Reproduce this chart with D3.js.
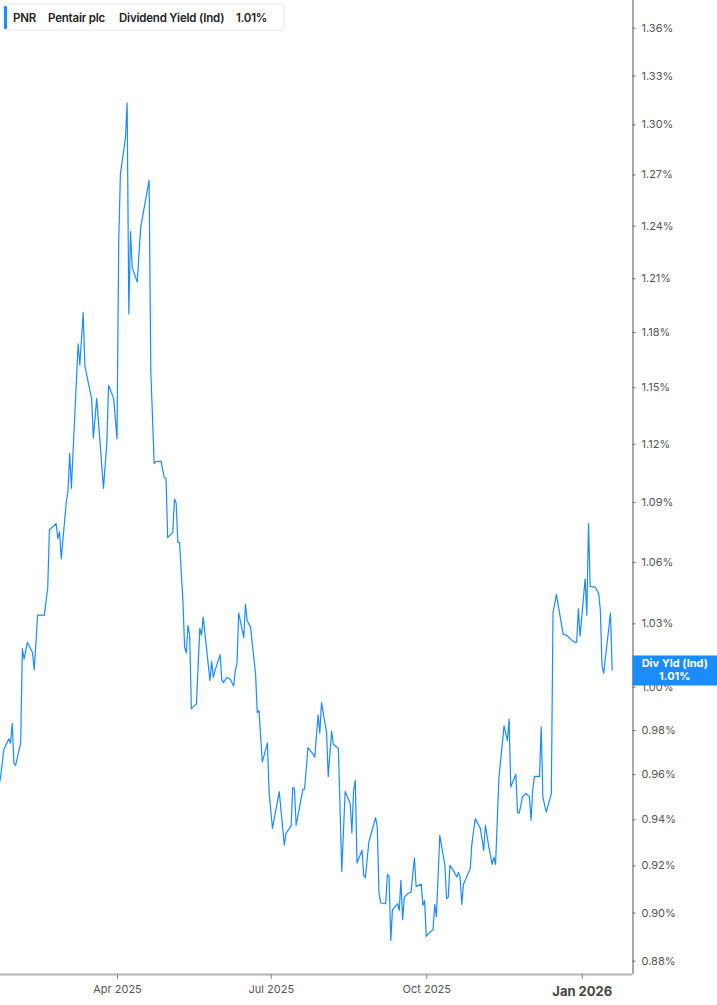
<!DOCTYPE html>
<html lang="en">
<head>
  <meta charset="UTF-8" />
  <title>PNR Dividend Yield</title>
  <style>
  body {
    margin: 0;
    background: #fff;
    font-family: Inter, "Noto Sans", sans-serif;
  }
  svg {
    display: block;
  }
  </style>
  <script src="https://d3js.org/d3.v7.min.js"></script>
</head>
<body>
  <div id="chart"></div>
  <script>
    // Dividend yield (%), one entry per visible vertex
    const dates = [
      "2025-01-21","2025-01-22","2025-01-24","2025-01-27","2025-01-28","2025-01-29","2025-01-30","2025-01-31",
      "2025-02-03","2025-02-04","2025-02-05","2025-02-07","2025-02-10","2025-02-11","2025-02-12","2025-02-13",
      "2025-02-17","2025-02-19","2025-02-20","2025-02-24","2025-02-25","2025-02-26","2025-02-27","2025-03-02",
      "2025-03-03","2025-03-04","2025-03-05","2025-03-09","2025-03-10","2025-03-12","2025-03-13","2025-03-16",
      "2025-03-17","2025-03-18","2025-03-20","2025-03-24","2025-03-26","2025-03-27","2025-03-30","2025-04-01",
      "2025-04-02","2025-04-03","2025-04-06","2025-04-07","2025-04-08","2025-04-09","2025-04-10","2025-04-13",
      "2025-04-15","2025-04-20","2025-04-21","2025-04-23","2025-04-24","2025-04-27","2025-04-29","2025-04-30",
      "2025-05-01","2025-05-04","2025-05-05","2025-05-06","2025-05-07","2025-05-08","2025-05-10","2025-05-11",
      "2025-05-12","2025-05-13","2025-05-14","2025-05-15","2025-05-18","2025-05-20","2025-05-21","2025-05-22",
      "2025-05-26","2025-05-27","2025-05-28","2025-05-29","2025-06-01","2025-06-02","2025-06-03","2025-06-05",
      "2025-06-07","2025-06-09","2025-06-10","2025-06-11","2025-06-12","2025-06-15","2025-06-16","2025-06-17",
      "2025-06-19","2025-06-22","2025-06-23","2025-06-24","2025-06-26","2025-06-29","2025-06-30","2025-07-02",
      "2025-07-06","2025-07-09","2025-07-10","2025-07-13","2025-07-14","2025-07-15","2025-07-16","2025-07-20",
      "2025-07-21","2025-07-23","2025-07-26","2025-07-27","2025-07-29","2025-07-30","2025-07-31","2025-08-03",
      "2025-08-04","2025-08-06","2025-08-07","2025-08-10","2025-08-12","2025-08-14","2025-08-17","2025-08-18",
      "2025-08-19","2025-08-20","2025-08-21","2025-08-24","2025-08-25","2025-08-26","2025-08-28","2025-09-01",
      "2025-09-02","2025-09-03","2025-09-04","2025-09-07","2025-09-08","2025-09-09","2025-09-10","2025-09-11",
      "2025-09-14","2025-09-15","2025-09-16","2025-09-17","2025-09-18","2025-09-20","2025-09-22","2025-09-24",
      "2025-09-25","2025-09-28","2025-09-29","2025-09-30","2025-10-01","2025-10-03","2025-10-05","2025-10-06",
      "2025-10-07","2025-10-09","2025-10-12","2025-10-13","2025-10-14","2025-10-15","2025-10-17","2025-10-19",
      "2025-10-20","2025-10-21","2025-10-22","2025-10-23","2025-10-27","2025-10-28","2025-10-30","2025-11-02",
      "2025-11-04","2025-11-05","2025-11-07","2025-11-09","2025-11-10","2025-11-11","2025-11-13","2025-11-16",
      "2025-11-18","2025-11-19","2025-11-20","2025-11-23","2025-11-24","2025-11-25","2025-11-27","2025-11-29",
      "2025-12-01","2025-12-02","2025-12-03","2025-12-04","2025-12-07","2025-12-08","2025-12-09","2025-12-11",
      "2025-12-14","2025-12-15","2025-12-17","2025-12-21","2025-12-23","2025-12-26","2025-12-28","2025-12-29",
      "2025-12-30","2025-12-31","2026-01-03","2026-01-04","2026-01-05","2026-01-06","2026-01-09","2026-01-11",
      "2026-01-12","2026-01-13","2026-01-14","2026-01-18","2026-01-19"
    ];
    const yields = [
      0.955,0.958,0.971,0.976,0.974,0.983,0.965,0.964,
      0.974,1.018,1.013,1.021,1.016,1.008,1.020,1.034,
      1.034,1.047,1.076,1.079,1.0715,1.075,1.0615,1.090,
      1.0957,1.115,1.097,1.1735,1.162,1.1906,1.1615,1.148,
      1.144,1.123,1.144,1.097,1.1207,1.151,1.144,1.1226,
      1.2296,1.270,1.2918,1.3131,1.190,1.2367,1.216,1.2078,
      1.239,1.2666,1.1587,1.1097,1.1108,1.111,1.1024,1.102,
      1.072,1.0747,1.0915,1.0895,1.0697,1.0697,1.0411,1.0187,
      1.0159,1.029,1.0243,0.9898,0.992,1.0276,1.0243,1.033,
      1.0029,1.0119,1.0044,1.0076,1.0151,1.0032,1.0019,1.0044,
      1.0035,1.0003,1.0076,1.0108,1.035,1.0232,1.0392,1.0315,
      1.0282,1.006,0.988,0.989,0.9655,0.974,0.9519,0.936,
      0.9522,0.9287,0.934,0.937,0.954,0.9536,0.9374,0.9533,
      0.9533,0.972,0.969,0.9677,0.987,0.9785,0.9926,0.9788,
      0.959,0.9795,0.9735,0.9716,0.9174,0.9523,0.947,0.934,
      0.9526,0.9573,0.921,0.9265,0.9157,0.9148,0.930,0.9407,
      0.9367,0.9086,0.904,0.9037,0.9162,0.9153,0.8883,0.9011,
      0.9037,0.9009,0.9136,0.897,0.9064,0.908,0.9086,0.9233,
      0.911,0.912,0.903,0.905,0.890,0.8918,0.8928,0.9034,
      0.8983,0.933,0.920,0.9058,0.9065,0.920,0.9179,0.915,
      0.917,0.915,0.9034,0.912,0.9186,0.9294,0.9403,0.936,
      0.9265,0.9374,0.928,0.9204,0.9236,0.9204,0.9584,0.9819,
      0.9752,0.985,0.9543,0.960,0.943,0.9427,0.950,0.9514,
      0.950,0.9396,0.9533,0.959,0.959,0.9814,0.9497,0.9432,
      0.9514,1.035,1.044,1.0247,1.0243,1.022,1.0208,1.021,
      1.037,1.0238,1.0516,1.0339,1.0792,1.0479,1.0476,1.0445,
      1.0363,1.0095,1.0063,1.035,1.0076
    ];

    // Axis ticks
    const yTicks = [0.88, 0.90, 0.92, 0.94, 0.96, 0.98, 1.00, 1.03, 1.06, 1.09, 1.12, 1.15, 1.18, 1.21, 1.24, 1.27, 1.30, 1.33, 1.36];
    const xTicks = ["2025-04-01", "2025-07-01", "2025-10-01", "2026-01-01"];
    const xTickLabels = ["Apr 2025", "Jul 2025", "Oct 2025", "Jan 2026"];

    // Legend / last value texts
    const ticker = "PNR";
    const company = "Pentair plc";
    const seriesName = "Dividend Yield (Ind)";
    const shortName = "Div Yld (Ind)";

    const width = 717;
    const height = 1005;
    const plotRight = 632.5;
    const plotBottom = 974;
    const lineColor = "#1a8cff";

    const parse = d3.timeParse("%Y-%m-%d");
    const data = dates.map((d, i) => ({ date: parse(dates[i]), value: yields[i] }));
    const last = data[data.length - 1];

    const svg = d3.select("#chart").append("svg")
      .attr("width", width)
      .attr("height", height);

    // Time scale: visible window runs from late Jan 2025 to the end of Jan 2026
    const x = d3.scaleTime()
      .domain([new Date(2025, 0, 21, 18, 30), new Date(2026, 0, 31, 0, 45)])
      .range([0, plotRight]);

    // Log scale on the yield
    const y = d3.scaleLog()
      .domain([0.87455, 1.3777])
      .range([plotBottom, 0]);

    // Right axis
    const yAxis = svg.append("g")
      .attr("transform", `translate(${plotRight},0)`)
      .call(d3.axisRight(y)
        .tickValues(yTicks)
        .tickSize(3)
        .tickPadding(6)
        .tickFormat(d => d3.format(".2f")(d) + "%"));
    yAxis.select(".domain").attr("stroke", "#8c8c8c").attr("stroke-width", 1.5).attr("d", `M0.5,0V${plotBottom}`);
    yAxis.selectAll(".tick line").attr("stroke", "#666");
    yAxis.selectAll(".tick text")
      .attr("fill", "#555")
      .style("font-family", "Inter, sans-serif")
      .style("font-size", "11px");

    // Bottom axis
    const xAxis = svg.append("g")
      .attr("transform", `translate(0,${plotBottom})`)
      .call(d3.axisBottom(x)
        .tickValues(xTicks.map(parse))
        .tickSize(5)
        .tickPadding(6)
        .tickFormat((d, i) => xTickLabels[i]));
    xAxis.select(".domain").attr("stroke", "#b3b3b3").attr("stroke-width", 2).attr("d", `M0,0.5H${plotRight}`);
    xAxis.selectAll(".tick line").attr("stroke", "#888");
    xAxis.selectAll(".tick text")
      .attr("fill", "#555")
      .style("font-family", "Inter, sans-serif")
      .style("font-size", "11px");
    xAxis.selectAll(".tick text")
      .filter((d, i) => i === xTicks.length - 1)
      .attr("fill", "#444")
      .attr("dy", "0.85em")
      .style("font-weight", "bold")
      .style("font-size", "13px");

    // The yield line
    svg.append("path")
      .datum(data)
      .attr("fill", "none")
      .attr("stroke", lineColor)
      .attr("stroke-width", 1.2)
      .attr("stroke-linejoin", "round")
      .attr("d", d3.line().x(d => x(d.date)).y(d => y(d.value)));

    // Last value tag on the right axis
    const tag = svg.append("g").attr("transform", `translate(${plotRight},${y(last.value)})`);
    tag.append("rect")
      .attr("x", 0)
      .attr("y", -15)
      .attr("width", width - plotRight)
      .attr("height", 30)
      .attr("fill", lineColor);
    tag.append("text")
      .attr("x", (width - plotRight) / 2)
      .attr("y", -3)
      .attr("text-anchor", "middle")
      .attr("fill", "#fff")
      .style("font-size", "11px")
      .style("font-weight", "bold")
      .text(shortName);
    tag.append("text")
      .attr("x", (width - plotRight) / 2)
      .attr("y", 10)
      .attr("text-anchor", "middle")
      .attr("fill", "#fff")
      .style("font-size", "11px")
      .style("font-weight", "bold")
      .text(d3.format(".2f")(last.value) + "%");

    // Legend box, top left
    const legend = svg.append("g").attr("transform", "translate(3,4)");
    legend.append("rect")
      .attr("width", 281)
      .attr("height", 26)
      .attr("rx", 3)
      .attr("fill", "#fff")
      .attr("stroke", "#e6e6e6");
    legend.append("rect")
      .attr("x", 1)
      .attr("y", 2)
      .attr("width", 3)
      .attr("height", 23)
      .attr("rx", 1)
      .attr("fill", lineColor);
    const legendText = legend.append("text")
      .attr("y", 17.5)
      .attr("fill", "#222")
      .style("font-size", "11.5px")
      .style("font-weight", 600)
      .style("letter-spacing", "-0.2px");
    legendText.append("tspan").attr("x", 10).text(ticker);
    legendText.append("tspan").attr("x", 45).text(company);
    legendText.append("tspan").attr("x", 116).text(seriesName);
    legendText.append("tspan").attr("x", 233).text(d3.format(".2f")(last.value) + "%");
  </script>
</body>
</html>
